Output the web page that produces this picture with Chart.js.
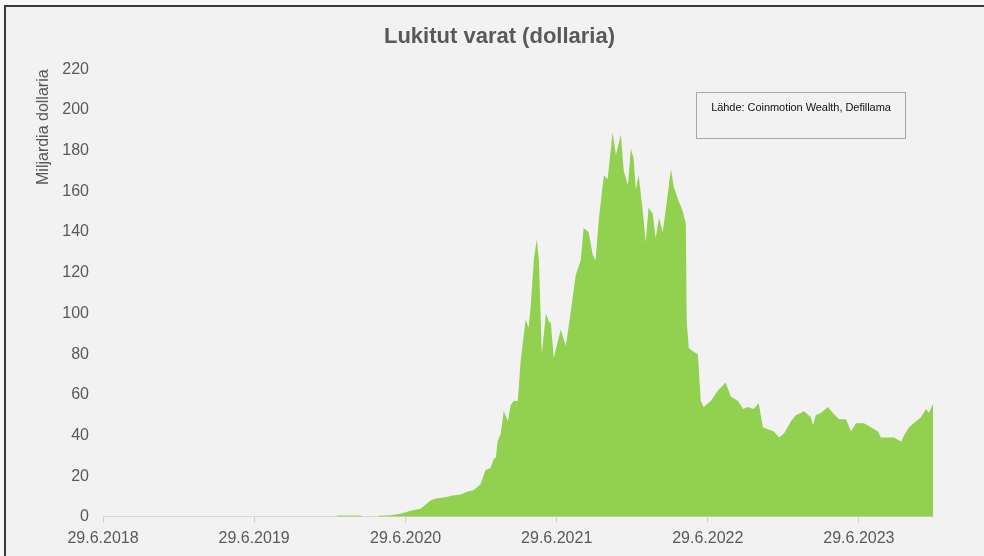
<!DOCTYPE html>
<html>
<head>
<meta charset="utf-8">
<script src="https://cdn.jsdelivr.net/npm/chart.js@4.4.1/dist/chart.umd.min.js"></script>
<style>
  html, body { margin: 0; padding: 0; background: #f7f7f7; }
  #frame {
    position: absolute; left: 4px; top: 5px; width: 990px; height: 560px;
    border: 2px solid #3a3a3a; background: #f2f2f2;
  }
  #chart { position: absolute; left: 0; top: 0; }
  #source {
    position: absolute; left: 696px; top: 92px; width: 210px; height: 47px;
    border: 1px solid #a6a6a6; box-sizing: border-box;
    font: 11px "Liberation Sans", Arial, sans-serif; letter-spacing: -0.05px;
    color: #111; text-align: center; padding-top: 8px;
  }
</style>
</head>
<body>
<div id="frame"></div>
<canvas id="chart" width="984" height="556"></canvas>
<div id="source">Lähde: Coinmotion Wealth, Defillama</div>
<script>
// locked value (billion USD)
let dates = [
  '2018-06-29', '2020-01-12', '2020-01-17', '2020-03-12', '2020-03-17', '2020-04-20',
  '2020-04-25', '2020-05-24', '2020-06-17', '2020-07-11', '2020-08-04', '2020-08-28',
  '2020-09-10', '2020-09-29', '2020-10-21', '2020-11-09', '2020-11-26', '2020-12-10',
  '2020-12-27', '2021-01-08', '2021-01-20', '2021-01-28', '2021-02-02', '2021-02-06',
  '2021-02-14', '2021-02-21', '2021-03-03', '2021-03-10', '2021-03-17', '2021-03-27',
  '2021-04-03', '2021-04-15', '2021-04-22', '2021-04-27', '2021-05-05', '2021-05-12',
  '2021-05-17', '2021-05-24', '2021-06-03', '2021-06-10', '2021-06-15', '2021-06-22',
  '2021-07-01', '2021-07-09', '2021-07-21', '2021-08-02', '2021-08-14', '2021-08-26',
  '2021-09-02', '2021-09-14', '2021-09-24', '2021-10-01', '2021-10-09', '2021-10-21',
  '2021-10-30', '2021-11-11', '2021-11-19', '2021-12-01', '2021-12-08', '2021-12-18',
  '2021-12-25', '2022-01-01', '2022-01-06', '2022-01-13', '2022-01-23', '2022-01-30',
  '2022-02-06', '2022-02-16', '2022-02-23', '2022-03-03', '2022-03-12', '2022-03-20',
  '2022-04-01', '2022-04-08', '2022-04-20', '2022-04-30', '2022-05-07', '2022-05-09',
  '2022-05-14', '2022-05-26', '2022-06-05', '2022-06-12', '2022-06-19', '2022-07-06',
  '2022-07-23', '2022-08-11', '2022-08-24', '2022-09-10', '2022-09-22', '2022-10-04',
  '2022-10-18', '2022-10-30', '2022-11-09', '2022-11-21', '2022-12-06', '2022-12-18',
  '2022-12-30', '2023-01-16', '2023-01-28', '2023-02-09', '2023-02-16', '2023-03-05',
  '2023-03-10', '2023-03-17', '2023-03-29', '2023-04-15', '2023-04-27', '2023-05-12',
  '2023-05-29', '2023-06-10', '2023-06-22', '2023-07-11', '2023-07-28', '2023-08-14',
  '2023-08-21', '2023-09-07', '2023-09-22', '2023-10-09', '2023-10-16', '2023-10-28',
  '2023-11-14', '2023-11-26', '2023-12-08', '2023-12-15', '2023-12-25'
]
let tvl = [
  0, 0, 0.6, 0.6, 0, 0,
  0.5, 0.8, 1.5, 3, 4, 8,
  9, 9.5, 10.5, 11, 12.5, 13,
  16, 23, 24, 28.5, 29, 37,
  41, 52, 47, 55, 57, 57,
  77, 97, 93, 103, 127, 136.5,
  126, 80, 100, 96, 95, 78,
  86, 92, 84, 101, 119, 126,
  142, 140, 129, 126, 147, 168,
  166, 189, 178, 188, 170, 163,
  181, 176, 161, 168, 150, 135,
  152, 149, 137, 147, 140, 152,
  171, 162, 155, 150, 144, 96,
  83, 81, 80, 57, 54, 57,
  62, 66, 59, 57, 53, 54,
  53, 56, 44, 43, 42, 39,
  41, 47, 50, 51, 52, 49,
  45, 50, 51, 54, 51, 48,
  48, 42, 46, 46, 44, 42,
  39, 39, 39, 37, 40, 44,
  47, 49, 53, 51, 55.5
]
let xTickLabels = ['29.6.2018', '29.6.2019', '29.6.2020', '29.6.2021', '29.6.2022', '29.6.2023']
let yMin = 0, yMax = 220, yStep = 20

let start = Date.UTC(2018, 5, 29)
function dayNum(y, m, d) { return (Date.UTC(y, m - 1, d) - start) / 86400000 }
function isoDay(s) { let p = s.split('-').map(Number); return dayNum(p[0], p[1], p[2]) }
function fiDay(s) { let p = s.split('.').map(Number); return dayNum(p[2], p[1], p[0]) }

let points = dates.map((d, i) => ({ x: isoDay(d), y: tvl[i] }))
let tickDays = xTickLabels.map(fiDay)

let grey = '#595959'
let tickFont = { family: '"Liberation Sans", Arial, sans-serif', size: 16 }

// the title sits in the middle of the whole frame, not of the plot
let titleShift = {
  id: 'titleShift',
  afterLayout(chart) {
    let t = chart.titleBlock
    if (t) { t.left += 18; t.right += 18 }
  }
}

new Chart(document.getElementById('chart'), {
  type: 'line',
  data: {
    datasets: [{
      label: 'Lukitut varat',
      data: points,
      backgroundColor: '#92d050',
      borderWidth: 0,
      pointRadius: 0,
      fill: 'origin',
      tension: 0
    }]
  },
  plugins: [titleShift],
  options: {
    responsive: false,
    animation: false,
    layout: { padding: { left: 30, right: 51, top: 0, bottom: 2 } },
    plugins: {
      legend: { display: false },
      tooltip: { enabled: false },
      title: {
        display: true,
        text: 'Lukitut varat (dollaria)',
        color: grey,
        font: { family: '"Liberation Sans Narrow", "Liberation Sans", Arial, sans-serif', size: 22, weight: 'bold' },
        padding: { top: 24, bottom: 19 }
      }
    },
    scales: {
      x: {
        type: 'linear',
        min: 0,
        max: isoDay(dates[dates.length - 1]),
        afterBuildTicks: scale => { scale.ticks = tickDays.map(v => ({ value: v })) },
        ticks: {
          autoSkip: false, maxRotation: 0, color: grey, font: tickFont, padding: 6,
          callback: v => xTickLabels[tickDays.indexOf(v)]
        },
        grid: { drawOnChartArea: false, drawTicks: true, tickLength: 6, color: '#d0d0d0' },
        border: { display: true, color: '#d9d9d9', width: 1 }
      },
      y: {
        min: yMin,
        max: yMax,
        afterFit: scale => { scale.width = 73 },
        ticks: { stepSize: yStep, color: grey, font: tickFont, padding: 6 },
        grid: { display: false },
        border: { display: false },
        title: {
          display: true,
          text: 'Miljardia dollaria',
          align: 'end',
          color: grey,
          font: tickFont,
          padding: { top: 4, bottom: 0 }
        }
      }
    }
  }
})
</script>
</body>
</html>
